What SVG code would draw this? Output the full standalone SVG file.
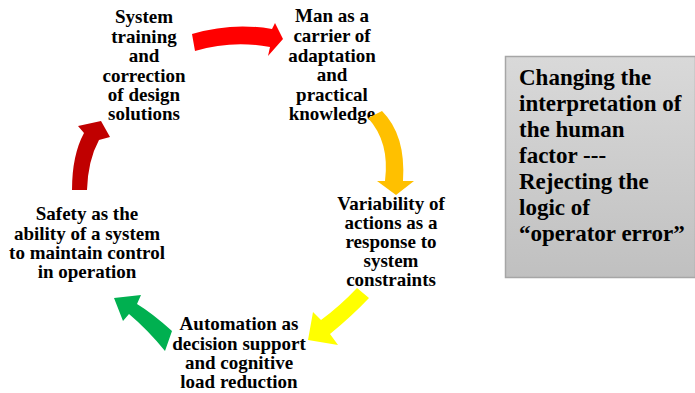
<svg xmlns="http://www.w3.org/2000/svg" width="695" height="393" viewBox="0 0 695 393">
<defs>
<linearGradient id="boxg" x1="0" y1="0" x2="0" y2="1">
<stop offset="0" stop-color="#d9d9d9"/>
<stop offset="1" stop-color="#c0c0c0"/>
</linearGradient>
</defs>
<style>
text{font-family:'Liberation Serif','DejaVu Serif',serif;font-weight:bold;fill:#000}
.t{font-size:19px;text-anchor:middle}
.b{font-size:23px}
</style>
<rect width="695" height="393" fill="#fff"/>
<g id="node-training" font-family="Liberation Serif">
<text class="t" x="144" y="23">System</text>
<text class="t" x="144" y="43">training</text>
<text class="t" x="144" y="62">and</text>
<text class="t" x="144" y="82">correction</text>
<text class="t" x="144" y="101">of design</text>
<text class="t" x="144" y="120">solutions</text>
</g>
<g id="node-man">
<text class="t" x="332" y="22">Man as a</text>
<text class="t" x="332" y="42">carrier of</text>
<text class="t" x="332" y="62">adaptation</text>
<text class="t" x="332" y="81">and</text>
<text class="t" x="332" y="101">practical</text>
<text class="t" x="332" y="120">knowledge</text>
</g>
<g id="node-variability">
<text class="t" x="391" y="210">Variability of</text>
<text class="t" x="391" y="229">actions as a</text>
<text class="t" x="391" y="248">response to</text>
<text class="t" x="391" y="267">system</text>
<text class="t" x="391" y="286">constraints</text>
</g>
<g id="node-automation">
<text class="t" x="239" y="330">Automation as</text>
<text class="t" x="239" y="350">decision support</text>
<text class="t" x="239" y="369">and cognitive</text>
<text class="t" x="239" y="388">load reduction</text>
</g>
<g id="node-safety">
<text class="t" x="87" y="220">Safety as the</text>
<text class="t" x="87" y="240">ability of a system</text>
<text class="t" x="87" y="259">to maintain control</text>
<text class="t" x="87" y="278">in operation</text>
</g>
<g id="box">
<rect x="505.5" y="56.5" width="190" height="221" fill="url(#boxg)" stroke="#a6a6a6" stroke-width="1.5"/>
<text class="b" x="519" y="85">Changing the</text>
<text class="b" x="519" y="111">interpretation of</text>
<text class="b" x="519" y="137">the human</text>
<text class="b" x="519" y="163">factor ---</text>
<text class="b" x="519" y="189">Rejecting the</text>
<text class="b" x="519" y="215">logic of</text>
<text class="b" x="519" y="241">“operator error”</text>
</g>
<g id="connectors">
<path fill="#ff0000" d="M192,34 Q232,22 272,29 L275,23 L283,39 L268,56 L270,47 Q232,40 195,51 Z"/>
<path fill="#ffc000" d="M368,118 Q390,142 385,181 L377,181 L396,195 L414,181 L403,181 Q406,135 382,111 Z"/>
<path fill="#ffff00" d="M357,288 Q340,306 321,320 L313,312 L308,340 L338,345 L330,334 Q352,316 369,298 Z"/>
<path fill="#00b050" d="M172,331 Q152,313 137,304 L141,295 L114,298 L123,321 L129,314 Q148,330 165,351 Z"/>
<path fill="#c00000" d="M72,190 Q72,155 84,133 L78,126 L101,121 L110,137 L99,140 Q88,160 87,190 Z"/>
</g>
</svg>
